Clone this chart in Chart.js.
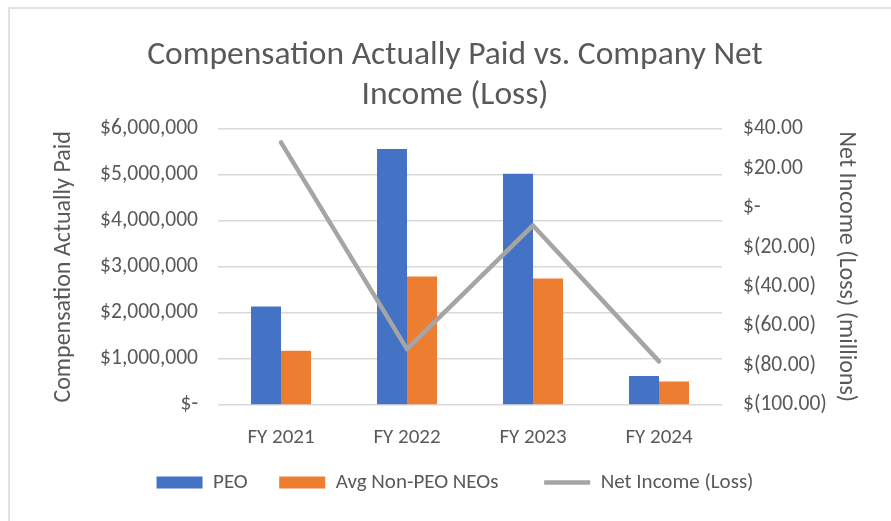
<!DOCTYPE html>
<html><head><meta charset="utf-8">
<script src="https://cdn.jsdelivr.net/npm/chart.js@4"></script>
<style>
html,body{margin:0;padding:0;background:#fff;overflow:hidden;width:891px;height:521px}
#frame{position:absolute;left:8px;top:7px;width:900px;height:600px;border-left:2px solid #e2e2e2;border-top:2px solid #e2e2e2;box-sizing:border-box}
canvas{position:absolute;left:0;top:0}
</style></head>
<body>
<div id="frame"></div>
<canvas id="c" width="891" height="503"></canvas>
<script>
const categories = ['FY 2021', 'FY 2022', 'FY 2023', 'FY 2024'];
const peoValues = [2140000, 5560000, 5020000, 630000];
const neoValues = [1180000, 2790000, 2750000, 510000];
const netIncomeValues = [33.1, -71.7, -9.0, -77.9];
const seriesNames = ['PEO', 'Avg Non-PEO NEOs', 'Net Income (Loss)'];
const legendSpacers = ['  ', '     ', ''];
const chartTitle = ['Compensation Actually Paid vs. Company Net', 'Income (Loss)'];
const leftAxisTitle = 'Compensation Actually Paid';
const rightAxisTitle = 'Net Income (Loss) (millions)';

const FONT = "Carlito, Lato, 'Liberation Sans', sans-serif";
const TXT = '#595959';
const PADL = 50, PADR = 31;
const PLOT_L = 218, PLOT_R = 722;

new Chart(document.getElementById('c'), {
  type: 'bar',
  data: {
    labels: categories,
    datasets: [
      { label: seriesNames[0], data: peoValues, backgroundColor: '#4472C4', yAxisID: 'y', order: 1,
        categoryPercentage: 0.476, barPercentage: 1, pointStyle: 'rect', borderWidth: 0 },
      { label: seriesNames[1], data: neoValues, backgroundColor: '#ED7D31', yAxisID: 'y', order: 1,
        categoryPercentage: 0.476, barPercentage: 1, pointStyle: 'rect', borderWidth: 0 },
      { type: 'line', label: seriesNames[2], data: netIncomeValues, borderColor: '#A5A5A5', backgroundColor: '#A5A5A5',
        borderWidth: 4.5, borderCapStyle: 'round', borderJoinStyle: 'round', pointRadius: 0, pointHoverRadius: 0,
        pointStyle: 'line', yAxisID: 'y1', order: -1, tension: 0 }
    ]
  },
  options: {
    responsive: false,
    animation: false,
    devicePixelRatio: 1,
    layout: { padding: { left: PADL, right: PADR, top: 0, bottom: 0 } },
    plugins: {
      tooltip: { enabled: false },
      title: {
        display: true, text: chartTitle, color: TXT,
        font: { family: FONT, size: 33.5, weight: 'normal', lineHeight: 1.19 },
        padding: { top: 36, bottom: 13 }
      },
      legend: {
        position: 'bottom',
        labels: {
          usePointStyle: true, pointStyleWidth: 46, boxHeight: 12, padding: 22,
          color: TXT, font: { family: FONT, size: 21 },
          sort: (a, b) => a.datasetIndex - b.datasetIndex,
          generateLabels: chart => {
            const items = Chart.defaults.plugins.legend.labels.generateLabels(chart);
            items.forEach(it => { it.text = it.text + legendSpacers[it.datasetIndex]; });
            return items;
          }
        }
      }
    },
    scales: {
      x: {
        grid: { display: false, drawTicks: false }, border: { display: false },
        ticks: { color: TXT, font: { family: FONT, size: 21 }, padding: 20 },
        afterFit: s => { s.height = 45; }
      },
      y: {
        position: 'left', min: 0, max: 6000000,
        grid: { color: '#D9D9D9', lineWidth: 1.5, drawTicks: false }, border: { display: false },
        ticks: { stepSize: 1000000, color: TXT, font: { family: FONT, size: 21.5 }, padding: 20,
          callback: v => v === 0 ? '$-' : '$' + Number(v).toLocaleString('en-US') },
        title: { display: true, text: leftAxisTitle, color: TXT, font: { family: FONT, size: 24 }, padding: 0 },
        afterFit: s => { s.width = PLOT_L - PADL; }
      },
      y1: {
        position: 'right', min: -100, max: 40,
        grid: { display: false, drawOnChartArea: false, drawTicks: false }, border: { display: false },
        ticks: { stepSize: 20, color: TXT, font: { family: FONT, size: 21.5 }, padding: 21,
          callback: v => v === 0 ? '$-' : (v < 0 ? '$(' + Math.abs(v).toFixed(2) + ')' : '$' + v.toFixed(2)) },
        title: { display: true, text: rightAxisTitle, color: TXT, font: { family: FONT, size: 24 }, padding: 0 },
        afterFit: s => { s.width = 891 - PLOT_R - PADR; }
      }
    }
  }
});
</script>
</body></html>
